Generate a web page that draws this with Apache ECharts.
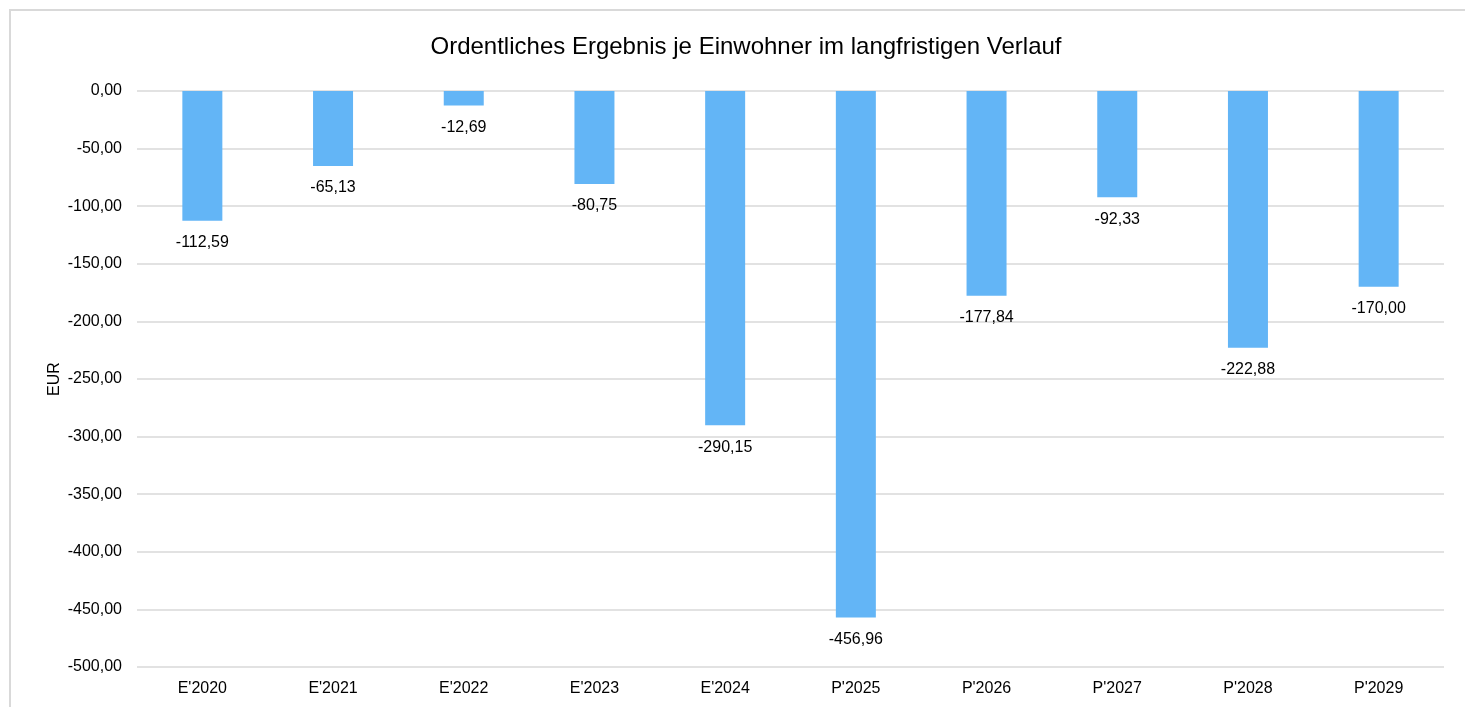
<!DOCTYPE html>
<html>
<head>
<meta charset="utf-8">
<script src="https://cdn.jsdelivr.net/npm/echarts@6/dist/echarts.min.js"></script>
<style>
  html, body { margin: 0; padding: 0; background: #fff; }
  #chart { width: 1465px; height: 707px; }
</style>
</head>
<body>
<div id="chart"></div>
<script>
const categories = ["E'2020", "E'2021", "E'2022", "E'2023", "E'2024", "P'2025", "P'2026", "P'2027", "P'2028", "P'2029"]
const values = [-112.59, -65.13, -12.69, -80.75, -290.15, -456.96, -177.84, -92.33, -222.88, -170.00]

const fmt = v => v.toFixed(2).replace('.', ',')
const font = 'Liberation Sans, Arial, sans-serif'

const chart = echarts.init(document.getElementById('chart'))
chart.setOption({
  animation: false,
  title: {
    text: 'Ordentliches Ergebnis je Einwohner im langfristigen Verlauf',
    left: 741,
    textAlign: 'center',
    top: 30,
    textStyle: { fontFamily: font, fontSize: 24, fontWeight: 'normal', color: '#000' }
  },
  graphic: [{
    type: 'rect',
    shape: { x: 10, y: 10, width: 1500, height: 800 },
    style: { fill: 'none', stroke: '#d9d9d9', lineWidth: 2 },
    silent: true
  }, {
    // y axis title
    type: 'text',
    x: 55,
    y: 379,
    rotation: Math.PI / 2,
    style: {
      text: 'EUR',
      fill: '#000',
      font: '16px ' + font,
      align: 'center',
      verticalAlign: 'middle'
    },
    silent: true
  }],
  grid: { left: 137, right: 21, top: 91, bottom: 40 },
  xAxis: {
    type: 'category',
    data: categories,
    position: 'bottom',
    axisLine: { show: false },
    axisTick: { show: false },
    axisLabel: { color: '#000', fontFamily: font, fontSize: 16, margin: 14 }
  },
  yAxis: {
    type: 'value',
    min: -500,
    max: 0,
    interval: 50,
    axisLine: { show: false },
    axisTick: { show: false },
    axisLabel: { color: '#000', fontFamily: font, fontSize: 16, margin: 15, formatter: fmt },
    splitLine: { lineStyle: { color: '#d9d9d9', width: 1.5 } }
  },
  series: [{
    type: 'bar',
    data: values,
    barWidth: 40,
    itemStyle: { color: '#63b5f6' },
    label: {
      show: true,
      position: 'bottom',
      distance: 14,
      color: '#000',
      fontFamily: font,
      fontSize: 16,
      formatter: p => fmt(p.value)
    }
  }]
})
</script>
</body>
</html>
